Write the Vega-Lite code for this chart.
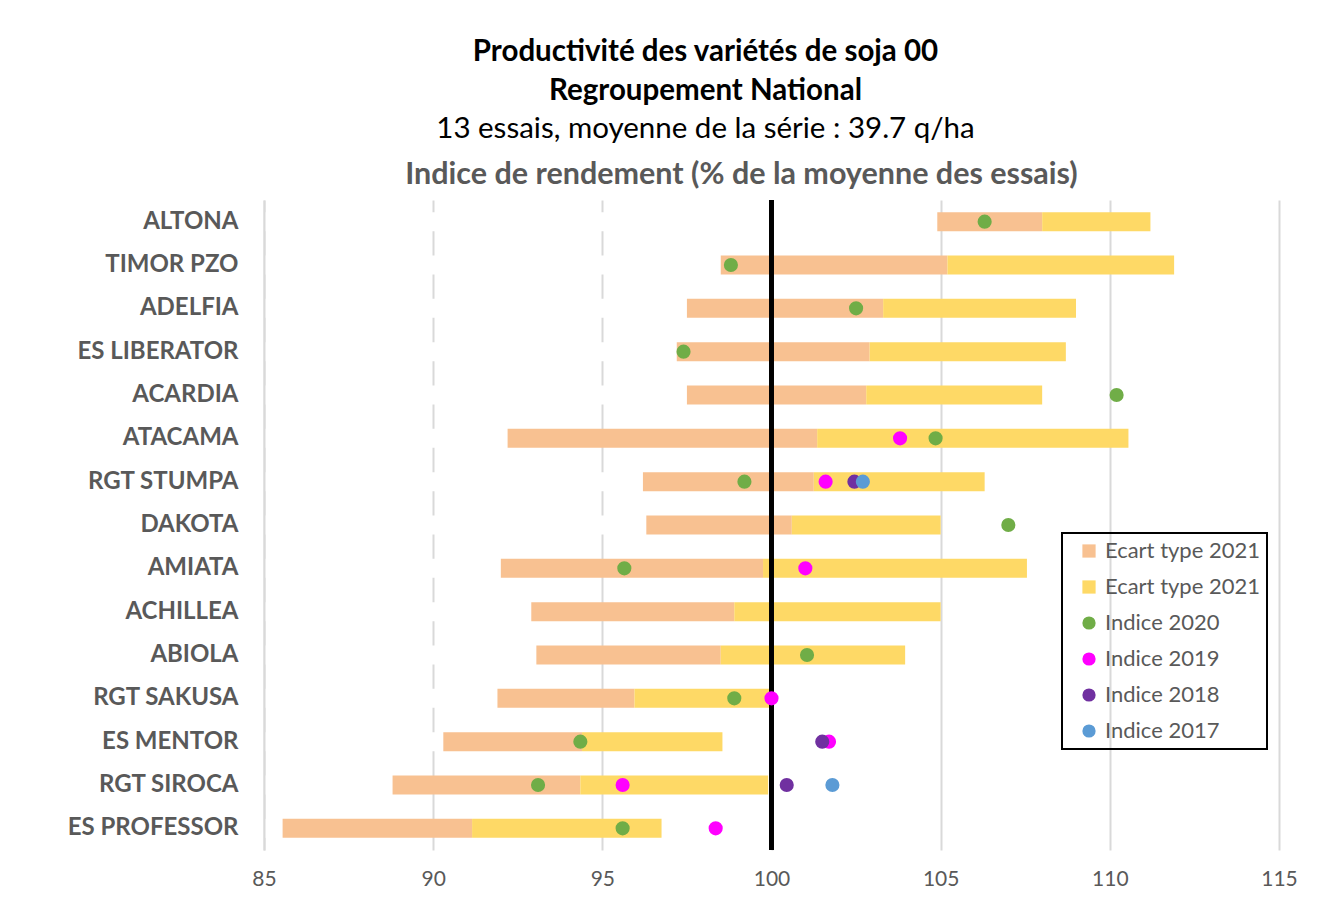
{
  "$schema": "https://vega.github.io/schema/vega-lite/v6.json",
  "width": 1015,
  "height": 650,
  "autosize": "none",
  "padding": {"left": 264, "top": 200, "right": 56, "bottom": 56},
  "background": "white",
  "config": {"view": {"stroke": null}, "font": "Lato"},
  "title": {
    "text": ["Productivité des variétés de soja 00", "Regroupement National"],
    "subtitle": "13 essais, moyenne de la série : 39.7 q/ha",
    "font": "Lato",
    "fontSize": 29.5,
    "fontWeight": "bold",
    "color": "black",
    "lineHeight": 39,
    "subtitleFont": "Lato",
    "subtitleFontSize": 29.5,
    "subtitleFontWeight": "normal",
    "subtitleColor": "black",
    "subtitlePadding": 9,
    "anchor": "middle",
    "dx": -66,
    "offset": 14.5
  },
  "data": {
    "values": [
      {"name": "ALTONA", "lo": 104.9, "mean": 108.0, "hi": 111.2, "i2020": 106.3, "i2019": null, "i2018": null, "i2017": null},
      {"name": "TIMOR PZO", "lo": 98.5, "mean": 105.2, "hi": 111.9, "i2020": 98.8, "i2019": null, "i2018": null, "i2017": null},
      {"name": "ADELFIA", "lo": 97.5, "mean": 103.3, "hi": 109.0, "i2020": 102.5, "i2019": null, "i2018": null, "i2017": null},
      {"name": "ES LIBERATOR", "lo": 97.2, "mean": 102.9, "hi": 108.7, "i2020": 97.4, "i2019": null, "i2018": null, "i2017": null},
      {"name": "ACARDIA", "lo": 97.5, "mean": 102.8, "hi": 108.0, "i2020": 110.2, "i2019": null, "i2018": null, "i2017": null},
      {"name": "ATACAMA", "lo": 92.2, "mean": 101.35, "hi": 110.55, "i2020": 104.85, "i2019": 103.8, "i2018": null, "i2017": null},
      {"name": "RGT STUMPA", "lo": 96.2, "mean": 101.25, "hi": 106.3, "i2020": 99.2, "i2019": 101.6, "i2018": 102.45, "i2017": 102.7},
      {"name": "DAKOTA", "lo": 96.3, "mean": 100.6, "hi": 105.0, "i2020": 107.0, "i2019": null, "i2018": null, "i2017": null},
      {"name": "AMIATA", "lo": 92.0, "mean": 99.75, "hi": 107.55, "i2020": 95.65, "i2019": 101.0, "i2018": null, "i2017": null},
      {"name": "ACHILLEA", "lo": 92.9, "mean": 98.9, "hi": 105.0, "i2020": null, "i2019": null, "i2018": null, "i2017": null},
      {"name": "ABIOLA", "lo": 93.05, "mean": 98.5, "hi": 103.95, "i2020": 101.05, "i2019": null, "i2018": null, "i2017": null},
      {"name": "RGT SAKUSA", "lo": 91.9, "mean": 95.95, "hi": 99.95, "i2020": 98.9, "i2019": 100.0, "i2018": null, "i2017": null},
      {"name": "ES MENTOR", "lo": 90.3, "mean": 94.4, "hi": 98.55, "i2020": 94.35, "i2019": 101.7, "i2018": 101.5, "i2017": null},
      {"name": "RGT SIROCA", "lo": 88.8, "mean": 94.35, "hi": 99.9, "i2020": 93.1, "i2019": 95.6, "i2018": 100.45, "i2017": 101.8},
      {"name": "ES PROFESSOR", "lo": 85.55, "mean": 91.15, "hi": 96.75, "i2020": 95.6, "i2019": 98.35, "i2018": null, "i2017": null}
    ]
  },
  "resolve": {"axis": {"x": "independent"}},
  "layer": [
    {
      "mark": {"type": "bar", "color": "white", "opacity": 1, "height": {"band": 0.44}},
      "encoding": {
        "y": {
          "field": "name", "type": "nominal", "sort": null,
          "scale": {"paddingInner": 0, "paddingOuter": 0},
          "axis": {
            "title": null, "ticks": false, "grid": false,
            "domain": true, "domainColor": "#d9d9d9", "domainWidth": 2,
            "labelFont": "Lato", "labelFontSize": 24, "labelFontWeight": "bold",
            "labelColor": "#595959", "labelPadding": 26, "zindex": 1
          }
        },
        "x": {
          "field": "lo", "type": "quantitative",
          "scale": {"domain": [85, 115], "nice": false, "zero": false},
          "axis": {
            "orient": "bottom", "values": [85, 90, 95, 100, 105, 110, 115],
            "grid": true, "gridColor": "#d9d9d9", "gridWidth": 2,
            "domain": false, "ticks": false, "title": null,
            "labelFont": "Lato", "labelFontSize": 21, "labelColor": "#595959",
            "labelPadding": 18, "labelFlush": false
          }
        },
        "x2": {"datum": 85}
      }
    },
    {
      "mark": {"type": "bar", "opacity": 1, "height": {"band": 0.44}},
      "encoding": {
        "y": {"field": "name", "type": "nominal", "sort": null},
        "x": {"field": "lo", "type": "quantitative", "axis": null},
        "x2": {"field": "mean"},
        "color": {"datum": "ecart_bas"}
      }
    },
    {
      "mark": {"type": "bar", "opacity": 1, "height": {"band": 0.44}},
      "encoding": {
        "y": {"field": "name", "type": "nominal", "sort": null},
        "x": {"field": "mean", "type": "quantitative", "axis": null},
        "x2": {"field": "hi"},
        "color": {"datum": "ecart_haut"}
      }
    },
    {
      "mark": {"type": "rule", "color": "black", "strokeWidth": 3.5},
      "encoding": {
        "x": {
          "datum": 100, "type": "quantitative",
          "axis": {
            "orient": "top", "labels": false, "ticks": false, "domain": false, "grid": false,
            "title": "Indice de rendement (% de la moyenne des essais)",
            "titleFont": "Lato", "titleFontSize": 30.5, "titleFontWeight": "bold",
            "titleColor": "#595959", "titleX": 477, "titleY": -17,
            "titleAlign": "center", "titleBaseline": "alphabetic"
          }
        }
      }
    },
    {
      "transform": [
        {"fold": ["i2020", "i2019", "i2018", "i2017"], "as": ["serie", "val"]},
        {"filter": "isValid(datum.val)"}
      ],
      "mark": {"type": "circle", "opacity": 1, "size": 200},
      "encoding": {
        "y": {"field": "name", "type": "nominal", "sort": null},
        "x": {"field": "val", "type": "quantitative", "axis": null},
        "color": {
          "field": "serie", "type": "nominal",
          "scale": {
            "domain": ["ecart_bas", "ecart_haut", "i2020", "i2019", "i2018", "i2017"],
            "range": ["#F8C191", "#FED966", "#70AD47", "#FF00FF", "#7030A0", "#5B9BD5"]
          },
          "legend": {
            "title": null, "orient": "none", "legendX": 798, "legendY": 333,
            "padding": 7, "symbolOffset": 9, "labelOffset": 5, "rowPadding": 14,
            "labelFont": "Lato", "labelFontSize": 22, "labelColor": "#595959",
            "symbolSize": 175, "symbolOpacity": 1, "strokeColor": "black",
            "labelExpr": "indexof(datum.value, 'ecart') == 0 ? 'Ecart type 2021' : 'Indice ' + slice(datum.value, 1)",
            "encode": {
              "legend": {"update": {"strokeWidth": {"value": 2}}},
              "symbols": {"update": {
                "shape": {"signal": "indexof(datum.value, 'ecart') == 0 ? 'square' : 'circle'"},
                "strokeWidth": {"value": 0}
              }}
            }
          }
        }
      }
    }
  ]
}
